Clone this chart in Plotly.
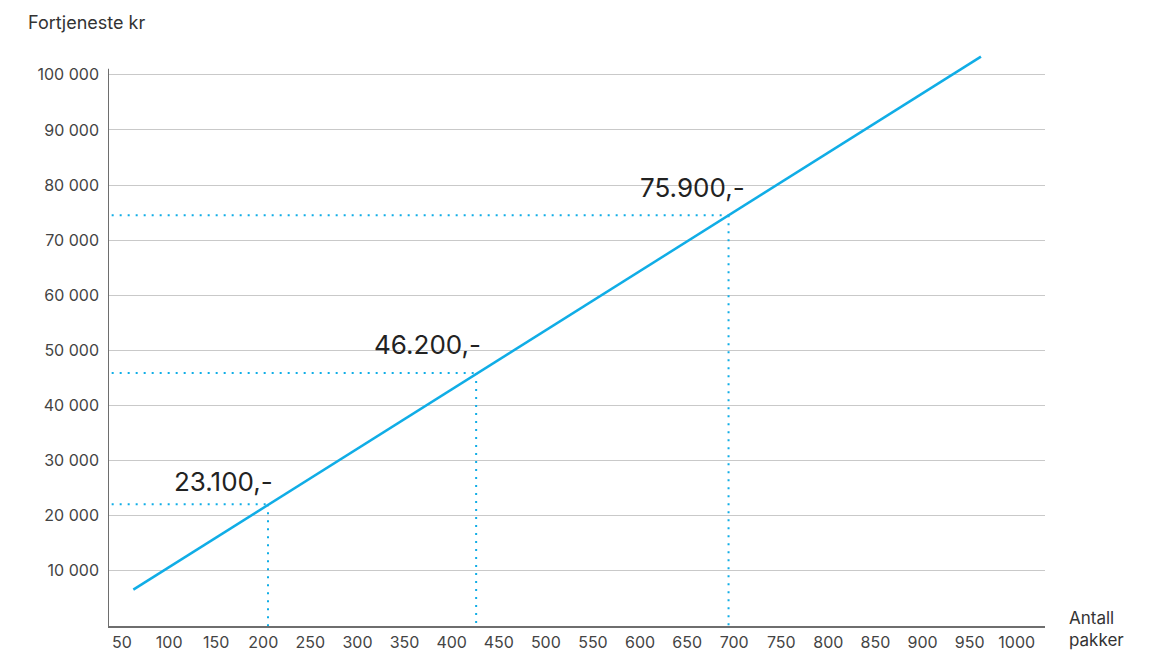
import plotly.graph_objects as go

# ---- data ----
line_x = [62, 962]
line_y = [6600, 103300]
point_x = [205, 426, 694]
point_y = [22100, 45900, 74500]
point_labels = ["23.100,-", "46.200,-", "75.900,-"]
x_ticks = list(range(50, 1001, 50))
y_ticks = list(range(10000, 100001, 10000))
y_tick_text = [f"{v // 1000} 000" for v in y_ticks]

BLUE = "#10ade6"
FONT = "Inter"
X_MIN, X_MAX = 35.1, 1030
Y_MAX = 104500
DOT_START = 39

fig = go.Figure()

# dotted guides
for px, py in zip(point_x, point_y):
    fig.add_trace(go.Scatter(x=[DOT_START, px], y=[py, py], mode="lines",
                             line=dict(color=BLUE, width=2, dash="2px,6px"),
                             hoverinfo="skip", showlegend=False))
    fig.add_trace(go.Scatter(x=[px, px], y=[py, 0], mode="lines",
                             line=dict(color=BLUE, width=2, dash="2px,6px"),
                             hoverinfo="skip", showlegend=False))

# main line
fig.add_trace(go.Scatter(x=line_x, y=line_y, mode="lines",
                         line=dict(color=BLUE, width=2.5),
                         showlegend=False))

# value labels
shifts = [(-45, 23), (-49, 29), (-36, 28)]
for px, py, lab, (dx, dy) in zip(point_x, point_y, point_labels, shifts):
    fig.add_annotation(x=px, y=py, text=lab, showarrow=False,
                       xshift=dx, yshift=dy,
                       font=dict(family=FONT, size=26, color="#222222"))

# y axis line as a shape
fig.add_shape(type="line", xref="x", yref="y", x0=X_MIN, x1=X_MIN, y0=0, y1=101100,
              line=dict(color="#6e6e6e", width=2))

fig.add_annotation(xref="paper", yref="paper", x=-0.087, y=1.0, yshift=27.5,
                   text="Fortjeneste kr", showarrow=False, xanchor="left", yanchor="middle",
                   font=dict(family=FONT, size=18, color="#333333"))
fig.add_annotation(xref="paper", yref="paper", x=1.0, y=0, xshift=22, yshift=-26,
                   text="Antall<br>pakker", showarrow=False, xanchor="left", yanchor="bottom",
                   align="left",
                   font=dict(family=FONT, size=17, color="#333333"))

fig.update_layout(
    width=1151, height=652,
    margin=dict(l=108, r=106, t=49.5, b=25.7),
    paper_bgcolor="white", plot_bgcolor="white",
    font=dict(family=FONT, size=16, color="#333333"),
    xaxis=dict(range=[X_MIN, X_MAX], tickvals=x_ticks, showgrid=False, zeroline=False,
               showline=True, linecolor="#6e6e6e", linewidth=2, ticks="", automargin=False,
               tickfont=dict(size=16, color="#444444"), ticklabelstandoff=1),
    yaxis=dict(range=[0, Y_MAX], tickvals=y_ticks, ticktext=y_tick_text, automargin=False,
               showgrid=True, gridcolor="#c9c9c9", gridwidth=1, zeroline=False,
               showline=False, ticks="", tickfont=dict(size=16, color="#444444"),
               ticklabelstandoff=8),
)

fig.write_html("out.html")
